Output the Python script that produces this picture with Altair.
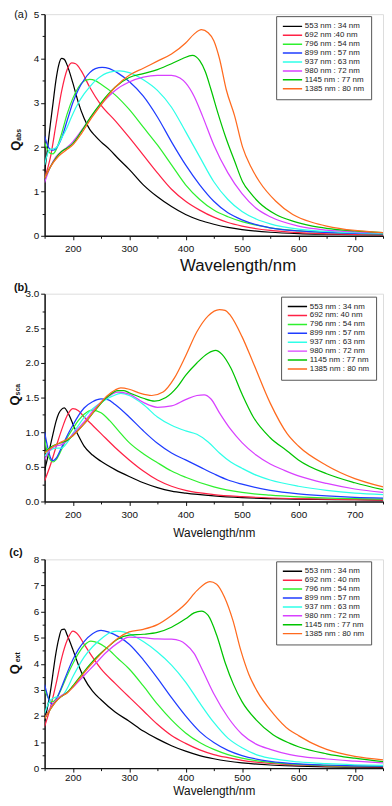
import altair as alt
import pandas as pd

FONT = "Liberation Sans"

# ---------------- data (wavelength nm, efficiency) ----------------
LABELS_A = ["553 nm : 34 nm", "692 nm :40 nm", "796 nm : 54 nm", "899 nm : 57 nm",
            "937 nm : 63 nm", "980 nm : 72 nm", "1145 nm : 77 nm", "1385 nm : 80 nm"]
LABELS_B = ["553 nm : 34 nm", "692 nm: 40 nm", "796 nm : 54 nm", "899 nm : 57 nm",
            "937 nm : 63 nm", "980 nm : 72 nm", "1145 nm : 77 nm", "1385 nm : 80 nm"]
LABELS_C = ["553 nm : 34 nm", "692 nm : 40 nm", "796 nm : 54 nm", "899 nm : 57 nm",
            "937 nm : 63 nm", "980 nm : 72 nm", "1145 nm : 77 nm", "1385 nm : 80 nm"]
COLORS = ["#000000", "#ff2245", "#2ef02e", "#1f3cff", "#2effe8", "#d840ff", "#00c400", "#ff6a1e"]

X_MAJOR = [200, 300, 400, 500, 600, 700]
X_MINOR = [150, 250, 350, 450, 550, 650, 750]

# (a) Q_abs
ABS_553 = [(150,1.45),(155,1.95),(160,2.5),(165,3.0),(170,3.5),(175,3.85),(180,4.0),(185,3.98),(190,3.85),(200,3.45),(210,3.0),(220,2.65),(230,2.4),(240,2.25),(250,2.12),(265,1.95),(280,1.75),(300,1.5),(325,1.15),(350,0.88),(375,0.66),(400,0.48),(425,0.35),(450,0.26),(475,0.19),(500,0.14),(550,0.08),(600,0.05),(650,0.035),(700,0.025),(750,0.02)]
ABS_692 = [(150,1.3),(160,1.75),(170,2.5),(180,3.25),(190,3.75),(198,3.9),(205,3.88),(215,3.72),(230,3.35),(250,2.95),(275,2.6),(300,2.22),(325,1.82),(350,1.42),(375,1.05),(400,0.78),(425,0.58),(450,0.42),(475,0.3),(500,0.22),(550,0.12),(600,0.07),(650,0.045),(700,0.03),(750,0.02)]
ABS_796 = [(150,2.1),(155,1.95),(160,1.86),(165,1.85),(170,1.93),(180,2.3),(190,2.75),(200,3.1),(210,3.35),(220,3.49),(230,3.53),(240,3.5),(250,3.42),(275,3.18),(300,2.85),(325,2.45),(350,2.05),(375,1.6),(400,1.15),(425,0.82),(450,0.58),(475,0.43),(500,0.32),(550,0.18),(600,0.11),(650,0.075),(700,0.055),(750,0.04)]
ABS_899 = [(150,2.25),(155,2.05),(160,1.95),(165,1.93),(170,1.97),(180,2.2),(190,2.6),(200,3.0),(210,3.3),(220,3.52),(230,3.68),(240,3.77),(252,3.8),(265,3.77),(280,3.67),(300,3.48),(325,3.15),(350,2.68),(375,2.12),(400,1.6),(425,1.15),(450,0.78),(475,0.52),(500,0.36),(525,0.25),(550,0.18),(600,0.11),(650,0.075),(700,0.055),(750,0.045)]
ABS_937 = [(150,1.6),(155,1.85),(160,1.95),(165,1.96),(170,1.98),(180,2.2),(190,2.45),(200,2.75),(210,3.0),(220,3.2),(230,3.36),(240,3.5),(250,3.6),(260,3.67),(272,3.71),(283,3.72),(300,3.68),(325,3.52),(350,3.28),(375,2.9),(400,2.35),(425,1.78),(450,1.22),(475,0.82),(500,0.55),(525,0.38),(550,0.27),(600,0.15),(650,0.1),(700,0.07),(750,0.055)]
ABS_980 = [(150,1.2),(160,1.55),(170,1.78),(180,1.9),(190,2.0),(200,2.12),(210,2.28),(220,2.46),(230,2.64),(240,2.81),(250,2.96),(260,3.1),(275,3.28),(300,3.47),(325,3.58),(350,3.62),(375,3.62),(390,3.56),(400,3.45),(415,3.15),(430,2.7),(450,2.05),(475,1.42),(500,0.95),(525,0.62),(550,0.43),(600,0.22),(650,0.13),(700,0.09),(750,0.07)]
ABS_1145 = [(150,1.3),(160,1.55),(170,1.75),(180,1.9),(190,1.98),(200,2.08),(215,2.35),(230,2.65),(250,3.0),(275,3.35),(300,3.57),(325,3.66),(350,3.75),(375,3.88),(395,4.0),(412,4.07),(425,3.95),(435,3.7),(445,3.3),(457,2.78),(472,2.19),(487,1.68),(501,1.22),(516,0.95),(531,0.74),(560,0.48),(590,0.33),(625,0.22),(650,0.17),(700,0.11),(750,0.07)]
ABS_1385 = [(150,1.3),(160,1.55),(175,1.8),(190,1.95),(200,2.05),(215,2.3),(230,2.6),(250,2.95),(275,3.35),(300,3.62),(325,3.78),(350,3.94),(375,4.1),(400,4.35),(415,4.55),(428,4.65),(440,4.58),(450,4.4),(460,4.0),(472,3.3),(487,2.7),(501,2.0),(516,1.55),(531,1.22),(560,0.78),(590,0.48),(625,0.3),(650,0.22),(700,0.12),(750,0.07)]

# (b) Q_sca
SCA_553 = [(150,0.45),(155,0.62),(160,0.8),(165,0.98),(170,1.15),(175,1.27),(180,1.33),(185,1.35),(190,1.3),(195,1.22),(200,1.12),(210,0.95),(220,0.8),(235,0.67),(250,0.58),(275,0.46),(300,0.36),(325,0.27),(350,0.2),(375,0.15),(400,0.12),(450,0.08),(500,0.055),(600,0.035),(700,0.025),(750,0.02)]
SCA_692 = [(150,0.3),(160,0.52),(170,0.78),(180,1.03),(190,1.24),(200,1.34),(210,1.31),(220,1.22),(235,1.1),(250,0.98),(275,0.78),(300,0.6),(325,0.44),(350,0.31),(375,0.22),(400,0.16),(450,0.1),(500,0.07),(600,0.04),(700,0.025),(750,0.02)]
SCA_796 = [(150,0.9),(155,0.7),(160,0.6),(165,0.57),(170,0.6),(180,0.75),(190,0.92),(200,1.05),(210,1.17),(220,1.26),(235,1.32),(250,1.28),(265,1.17),(280,1.03),(300,0.85),(325,0.69),(350,0.56),(375,0.44),(400,0.35),(450,0.21),(500,0.13),(550,0.09),(600,0.065),(700,0.04),(750,0.035)]
SCA_899 = [(150,1.0),(155,0.8),(160,0.64),(165,0.59),(170,0.62),(180,0.78),(190,0.95),(200,1.1),(210,1.24),(220,1.35),(235,1.44),(250,1.48),(262,1.47),(275,1.4),(300,1.22),(325,1.02),(350,0.84),(375,0.7),(400,0.6),(425,0.5),(450,0.4),(475,0.31),(500,0.25),(550,0.16),(600,0.11),(650,0.08),(700,0.06),(750,0.05)]
SCA_937 = [(150,0.65),(160,0.74),(170,0.77),(180,0.77),(190,0.85),(200,0.98),(210,1.1),(225,1.26),(250,1.43),(270,1.52),(285,1.56),(300,1.53),(325,1.4),(350,1.22),(375,1.1),(400,1.02),(420,0.97),(440,0.86),(460,0.7),(480,0.57),(500,0.48),(525,0.38),(550,0.31),(600,0.22),(650,0.16),(700,0.12),(750,0.1)]
SCA_980 = [(150,0.6),(160,0.75),(170,0.8),(180,0.82),(190,0.88),(200,0.97),(220,1.15),(240,1.35),(260,1.5),(280,1.58),(300,1.55),(325,1.43),(350,1.36),(375,1.38),(400,1.47),(420,1.53),(433,1.54),(445,1.48),(460,1.28),(480,1.04),(500,0.85),(525,0.67),(550,0.54),(575,0.45),(600,0.37),(650,0.26),(700,0.18),(750,0.13)]
SCA_1145 = [(150,0.7),(160,0.78),(170,0.82),(180,0.85),(190,0.88),(200,0.95),(220,1.12),(240,1.32),(260,1.5),(280,1.6),(290,1.6),(300,1.57),(325,1.49),(345,1.45),(365,1.5),(385,1.65),(400,1.82),(420,2.0),(440,2.14),(453,2.18),(465,2.12),(480,1.93),(500,1.55),(520,1.22),(550,0.92),(580,0.73),(600,0.6),(650,0.4),(700,0.27),(750,0.17)]
SCA_1385 = [(150,0.7),(170,0.82),(180,0.86),(200,0.95),(220,1.12),(240,1.33),(260,1.52),(275,1.61),(285,1.64),(300,1.62),(320,1.56),(340,1.53),(360,1.58),(380,1.78),(400,2.1),(420,2.45),(440,2.68),(460,2.77),(470,2.76),(480,2.68),(500,2.38),(520,2.0),(550,1.42),(580,0.98),(600,0.8),(650,0.52),(700,0.33),(750,0.21)]

# (c) Q_ext
EXT_553 = [(150,1.8),(160,2.9),(170,4.4),(175,4.95),(180,5.3),(185,5.33),(190,5.1),(200,4.55),(210,3.95),(220,3.45),(235,2.95),(250,2.62),(275,2.15),(300,1.8),(325,1.42),(350,1.12),(375,0.86),(400,0.65),(425,0.48),(450,0.36),(500,0.2),(550,0.12),(600,0.08),(650,0.05),(700,0.04),(750,0.03)]
EXT_692 = [(150,1.6),(160,2.3),(170,3.2),(180,4.2),(190,4.9),(200,5.25),(210,5.1),(220,4.75),(235,4.25),(250,3.8),(275,3.25),(300,2.72),(325,2.2),(350,1.68),(375,1.25),(400,0.95),(425,0.7),(450,0.52),(475,0.4),(500,0.3),(550,0.18),(600,0.12),(650,0.08),(700,0.06),(750,0.05)]
EXT_796 = [(150,3.0),(155,2.75),(160,2.58),(165,2.55),(170,2.65),(180,3.05),(190,3.55),(200,4.0),(210,4.4),(220,4.7),(232,4.87),(245,4.8),(260,4.6),(280,4.2),(300,3.8),(325,3.15),(350,2.45),(375,1.85),(400,1.35),(425,0.98),(450,0.72),(475,0.52),(500,0.38),(550,0.22),(600,0.14),(650,0.1),(700,0.08),(750,0.07)]
EXT_899 = [(150,3.2),(155,2.8),(160,2.5),(165,2.45),(170,2.6),(180,3.1),(190,3.65),(200,4.15),(210,4.55),(220,4.85),(235,5.15),(250,5.28),(265,5.2),(280,5.05),(300,4.75),(325,4.15),(350,3.45),(375,2.7),(400,2.0),(425,1.4),(450,0.98),(475,0.68),(500,0.48),(550,0.26),(600,0.16),(650,0.12),(700,0.09),(750,0.08)]
EXT_937 = [(150,2.1),(160,2.6),(170,2.72),(180,2.75),(190,3.05),(200,3.5),(210,3.9),(220,4.25),(235,4.65),(250,4.95),(265,5.18),(278,5.25),(290,5.22),(300,5.15),(325,4.85),(350,4.45),(375,3.95),(400,3.3),(425,2.5),(450,1.75),(475,1.15),(500,0.78),(525,0.52),(550,0.38),(600,0.24),(650,0.17),(700,0.13),(750,0.11)]
EXT_980 = [(150,1.9),(160,2.3),(170,2.6),(180,2.78),(190,2.9),(200,3.1),(220,3.55),(240,4.0),(260,4.45),(280,4.8),(300,5.02),(325,5.0),(350,4.95),(375,4.94),(390,4.88),(400,4.75),(415,4.4),(430,3.75),(450,2.85),(475,1.95),(500,1.3),(525,0.92),(550,0.72),(585,0.52),(600,0.46),(650,0.35),(700,0.27),(750,0.2)]
EXT_1145 = [(150,1.9),(160,2.25),(170,2.55),(180,2.75),(190,2.9),(200,3.15),(220,3.7),(240,4.2),(260,4.6),(280,4.95),(300,5.1),(325,5.13),(350,5.2),(375,5.4),(400,5.72),(415,5.95),(428,6.02),(440,5.85),(455,5.1),(470,4.05),(485,3.2),(500,2.55),(525,1.85),(555,1.28),(585,0.95),(600,0.82),(650,0.55),(700,0.38),(750,0.25)]
EXT_1385 = [(150,1.9),(160,2.25),(170,2.55),(180,2.75),(190,2.88),(200,3.1),(220,3.65),(240,4.15),(260,4.6),(280,4.98),(300,5.22),(325,5.32),(350,5.5),(375,5.85),(400,6.3),(420,6.8),(443,7.15),(455,7.05),(469,6.55),(484,5.65),(498,4.5),(512,3.6),(526,2.98),(555,2.1),(584,1.46),(600,1.25),(625,0.95),(650,0.72),(700,0.45),(750,0.32)]

SERIES_A = [ABS_553, ABS_692, ABS_796, ABS_899, ABS_937, ABS_980, ABS_1145, ABS_1385]
SERIES_B = [SCA_553, SCA_692, SCA_796, SCA_899, SCA_937, SCA_980, SCA_1145, SCA_1385]
SERIES_C = [EXT_553, EXT_692, EXT_796, EXT_899, EXT_937, EXT_980, EXT_1145, EXT_1385]


def to_frame(series, labels):
    rows = []
    for order, (lab, pts) in enumerate(zip(labels, series)):
        for wl, q in pts:
            rows.append({"wl": wl, "q": q, "series": lab, "o": order})
    return pd.DataFrame(rows)


def panel(series, labels, ymax, ymajor, yminor, yfmt, h, sub, tag, tag_bold,
          tag_xy, q_xy, sub_xy, leg_xy, leg_row, xlab_pad, xtitle_pad, xtitle_size, xtitle_x):
    df = to_frame(series, labels)
    xs = alt.Scale(domain=[150, 750], nice=False, zero=False)
    ys = alt.Scale(domain=[0, ymax], nice=False, zero=False)
    xaxis_kw = dict(
        values=X_MAJOR, orient="bottom", title="Wavelength/nm", grid=False,
        tickSize=4, labelPadding=xlab_pad, titlePadding=xtitle_pad,
        titleFontSize=xtitle_size, titleFontWeight="normal", titleFont=FONT,
        labelFont=FONT, labelFontSize=10, labelColor="#111", titleColor="#111",
        domainColor="#111", domainWidth=1.5, tickColor="#111", tickWidth=1)
    if xtitle_x is not None:
        xaxis_kw["titleX"] = xtitle_x
        xaxis_kw["titleAlign"] = "center"
    lines = alt.Chart(df).mark_line(strokeWidth=1.25, interpolate="monotone", clip=True).encode(
        x=alt.X("wl:Q", scale=xs, axis=alt.Axis(**xaxis_kw)),
        y=alt.Y("q:Q", scale=ys, axis=alt.Axis(
            values=ymajor, format=yfmt, orient="left", title=None, grid=False,
            tickSize=4, labelPadding=2, labelFont=FONT, labelFontSize=10,
            labelColor="#111", domainColor="#111", domainWidth=1.5,
            tickColor="#111", tickWidth=1)),
        color=alt.Color("series:N", scale=alt.Scale(domain=labels, range=COLORS),
                        legend=alt.Legend(
                            orient="none", legendX=leg_xy[0], legendY=leg_xy[1], title=None,
                            symbolType="stroke", symbolSize=380, symbolStrokeWidth=1.5,
                            labelFont=FONT, labelFontSize=8, labelColor="#222",
                            strokeColor="#555", fillColor="white", padding=6,
                            rowPadding=0, clipHeight=leg_row, labelOffset=2,
                            labelLimit=200)),
        order=alt.Order("o:Q"),
    )
    minor = alt.Chart(df).mark_line(opacity=0).encode(
        x=alt.X("wl:Q", scale=xs, axis=alt.Axis(
            values=X_MINOR, orient="bottom", labels=False, domain=False, title=None,
            grid=False, tickSize=2.5, tickColor="#111")),
        y=alt.Y("q:Q", scale=ys, axis=alt.Axis(
            values=yminor, orient="left", labels=False, domain=False, title=None,
            grid=False, tickSize=2.5, tickColor="#111")),
    )
    one = pd.DataFrame({"q": ["Q"], "s": [sub], "t": [tag]})
    q_txt = alt.Chart(one).mark_text(angle=270, font=FONT, fontSize=13, fontWeight="bold",
                                     color="#111").encode(
        text="q:N", x=alt.value(q_xy[0]), y=alt.value(q_xy[1]))
    s_txt = alt.Chart(one).mark_text(angle=270, font=FONT, fontSize=7, fontWeight="bold",
                                     color="#111").encode(
        text="s:N", x=alt.value(sub_xy[0]), y=alt.value(sub_xy[1]))
    t_txt = alt.Chart(one).mark_text(font=FONT, fontSize=11,
                                     fontWeight="bold" if tag_bold else "normal",
                                     color="#111").encode(
        text="t:N", x=alt.value(tag_xy[0]), y=alt.value(tag_xy[1]))
    return alt.layer(lines, minor, q_txt, s_txt, t_txt).resolve_axis(
        x="independent", y="independent").properties(width=342, height=h)


pa = panel(SERIES_A, LABELS_A, 5, [0, 1, 2, 3, 4, 5], [0.5, 1.5, 2.5, 3.5, 4.5], "d", 224,
           "abs", "(a)", False, (-24, 1), (-29, 133), (-26, 122), (234, 2), 8.7, 4, 4, 17, 195)
pb = panel(SERIES_B, LABELS_B, 3, [0, 0.5, 1, 1.5, 2, 2.5, 3], [0.25, 0.75, 1.25, 1.75, 2.25, 2.75],
           ".1f", 210, "sca", "(b)", True, (-24, -6), (-30, 108), (-27, 97), (239, 3), 8.1, 4, 8, 12, None)
pc = panel(SERIES_C, LABELS_C, 8, [0, 1, 2, 3, 4, 5, 6, 7, 8], [0.5, 1.5, 2.5, 3.5, 4.5, 5.5, 6.5, 7.5],
           "d", 211, "ext", "(c)", True, (-29, -6), (-30, 111), (-27, 99), (234, 2), 8.1, 1, 3, 12, None)

chart = alt.vconcat(pa, pb, pc, spacing=58.5, bounds="flush").resolve_scale(
    x="independent", y="independent", color="independent"
).resolve_legend(color="independent").properties(
    padding={"left": 0, "top": -4, "right": 0, "bottom": 0}
).configure_view(stroke="#444", strokeWidth=1).configure(background="white")

chart.save("out.html", embed_options={"renderer": "svg", "actions": False})
